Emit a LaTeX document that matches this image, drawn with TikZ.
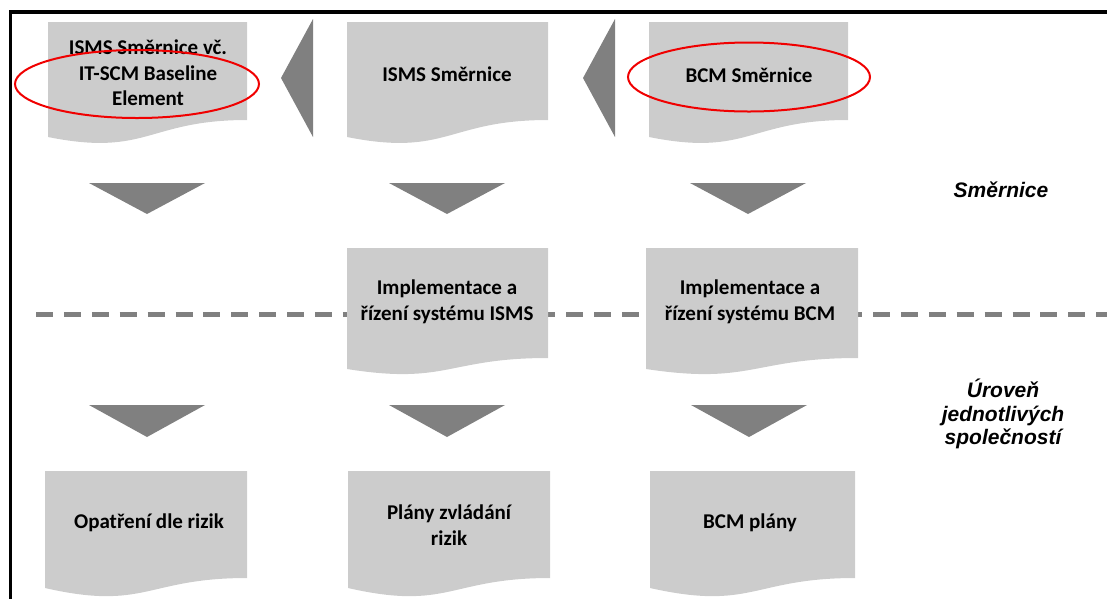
\documentclass[tikz,border=0pt]{standalone}
\usepackage{fontspec}
\setmainfont{Carlito}
\newfontfamily\labelfont{Liberation Sans}

\definecolor{docgray}{RGB}{204,204,204}
\definecolor{trigray}{RGB}{128,128,128}
\definecolor{dashgray}{RGB}{128,128,128}
\definecolor{ringred}{RGB}{240,0,0}

% document shape: x-left, x-right, top, right end of wave, left end of wave, wave control depth
\newcommand\docshape[6]{%
  \fill[docgray] (#1,#3) -- (#2,#3) -- (#2,#4)
    .. controls ({(#1+#2)/2},#4) and ({(#1+#2)/2},#6) .. (#1,#5) -- cycle;}
% downward triangle centred at x, from top y to tip y
\newcommand\downtri[3]{%
  \fill[trigray] ({#1-58},#2) -- ({#1+58},#2) -- (#1,#3) -- cycle;}
% left-pointing triangle: tip x, back x
\newcommand\lefttri[2]{%
  \fill[trigray] (#1,78) -- (#2,19) -- (#2,137) -- cycle;}

\begin{document}
\begin{tikzpicture}[x=1pt,y=-1pt,
  boxtext/.style={font=\bfseries\fontsize{21}{25.6}\selectfont, align=center, inner sep=0pt},
  sidelabel/.style={font=\labelfont\bfseries\itshape\fontsize{21}{23.2}\selectfont, align=center, inner sep=0pt},
  redring/.style={draw=ringred, line width=2pt},
  divider/.style={draw=dashgray, line width=5pt, dash pattern=on 17pt off 10.9pt},
  frame/.style={draw=black, line width=3.5pt}
]
\useasboundingbox (0,0) rectangle (1107,598);

% level divider (behind the boxes)
\coordinate (divL) at (36,314);
\coordinate (divR) at (1110,314);
\draw[divider] (divL) -- (divR);

% top row: directives
\docshape{48}{247}{22}{120}{137}{157}
\docshape{347}{548}{22}{120}{137}{157}
\docshape{649}{848}{22}{120}{137}{157}
\lefttri{281}{313}
\lefttri{583}{615}
\node[boxtext] (ismsit) at (148,73) {ISMS Směrnice vč.\\IT-SCM Baseline\\Element};
\node[boxtext] (isms) at (447,74) {ISMS Směrnice};
\node[boxtext] (bcm) at (749,75) {BCM Směrnice};
\draw[redring] (137,84) ellipse [x radius=122, y radius=34];
\draw[redring] (749,77) ellipse [x radius=121, y radius=34.5];

% arrows down to the implementation level
\downtri{147}{183}{214}
\downtri{447}{183}{214}
\downtri{748}{183}{214}

% middle row: implementation
\docshape{347}{548}{248}{358}{369}{385}
\docshape{646}{858}{248}{358}{369}{385}
\node[boxtext] (implisms) at (447,302) {Implementace a\\řízení systému ISMS};
\node[boxtext] (implbcm) at (750,302) {Implementace a\\řízení systému BCM};

% arrows down to the plans
\downtri{147}{405}{437}
\downtri{447}{405}{437}
\downtri{749}{405}{437}

% bottom row: plans
\docshape{45}{247}{471}{578}{588}{611}
\docshape{348}{550}{471}{578}{588}{611}
\docshape{650}{855}{471}{578}{588}{611}
\node[boxtext] (opatreni) at (149,523) {Opatření dle rizik};
\node[boxtext] (plany) at (449,525) {Plány zvládání\\rizik};
\node[boxtext] (bcmplany) at (750,523) {BCM plány};

% level labels
\node[sidelabel] (lvldir) at (1001,190) {Směrnice};
\node[sidelabel] (lvlcomp) at (1003,414) {Úroveň\\jednotlivých\\společností};

% frame
\coordinate (fBL) at (10.5,600);
\coordinate (fTL) at (10.5,12);
\coordinate (fTR) at (1110,12);
\draw[frame] (fBL) -- (fTL) -- (fTR);
\end{tikzpicture}
\end{document}
